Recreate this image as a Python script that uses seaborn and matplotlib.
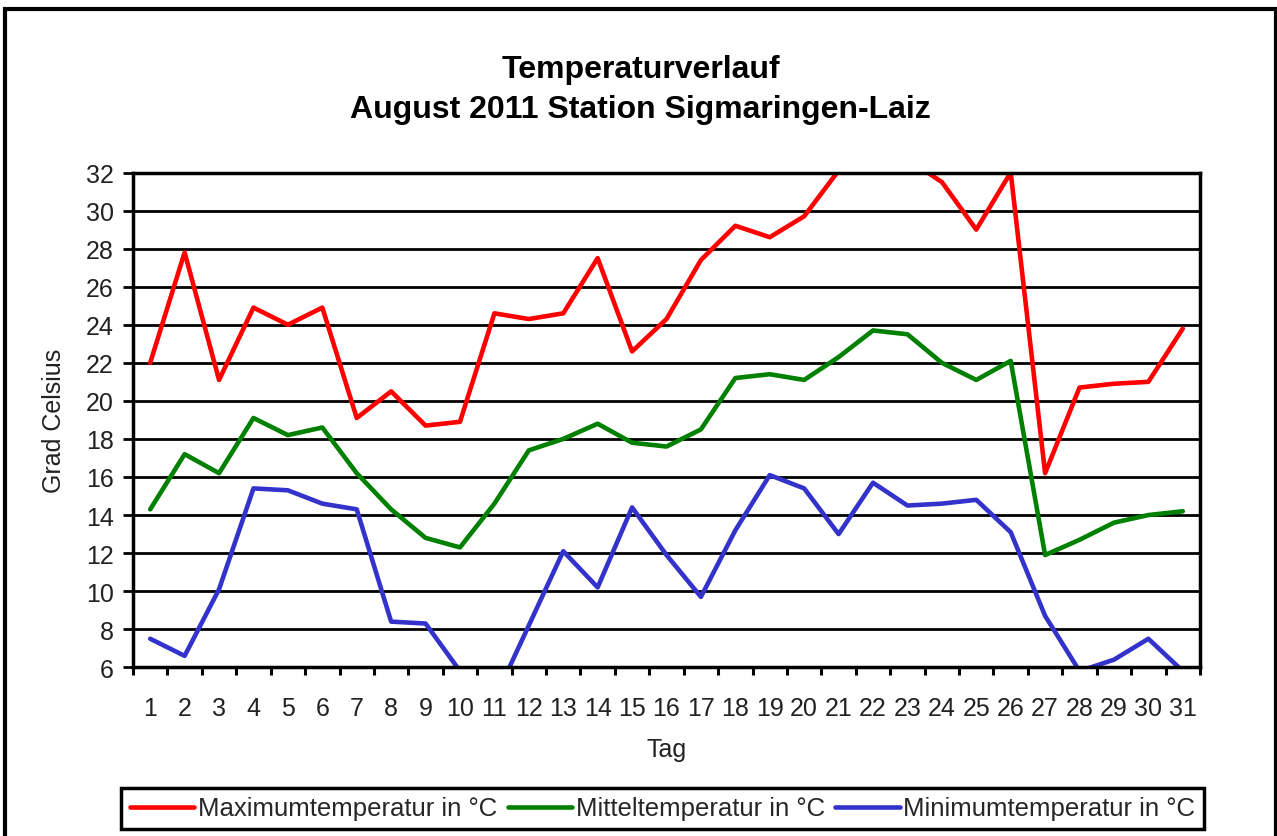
import numpy as np
import pandas as pd
import seaborn as sns
import matplotlib.pyplot as plt
from matplotlib.patches import Rectangle
from matplotlib.ticker import MultipleLocator, FixedLocator

days = list(range(1, 32))

t_max = [22.0, 27.8, 21.1, 24.9, 24.0, 24.9, 19.1, 20.5, 18.7, 18.9,
         24.6, 24.3, 24.6, 27.5, 22.6, 24.3, 27.4, 29.2, 28.6, 29.7,
         32.1, 33.8, 32.7, 31.5, 29.0, 32.0, 16.2, 20.7, 20.9, 21.0, 23.8]
t_mean = [14.3, 17.2, 16.2, 19.1, 18.2, 18.6, 16.2, 14.3, 12.8, 12.3,
          14.6, 17.4, 18.0, 18.8, 17.8, 17.6, 18.5, 21.2, 21.4, 21.1,
          22.3, 23.7, 23.5, 22.0, 21.1, 22.1, 11.9, 12.7, 13.6, 14.0, 14.2]
t_min = [7.5, 6.6, 10.1, 15.4, 15.3, 14.6, 14.3, 8.4, 8.3, 5.8,
         4.3, 8.2, 12.1, 10.2, 14.4, 11.9, 9.7, 13.2, 16.1, 15.4,
         13.0, 15.7, 14.5, 14.6, 14.8, 13.1, 8.7, 5.8, 6.4, 7.5, 5.8]

series_names = ['Maximumtemperatur in °C', 'Mitteltemperatur in °C', 'Minimumtemperatur in °C']
colors = ['#FF0000', '#008000', '#3333CC']

df = pd.DataFrame({'Tag': days, series_names[0]: t_max,
                   series_names[1]: t_mean, series_names[2]: t_min})
long = df.melt(id_vars='Tag', var_name='Reihe', value_name='Temp')

sns.set_theme(style='white')
plt.rcParams['font.family'] = ['Liberation Sans', 'DejaVu Sans']

fig = plt.figure(figsize=(12.77, 8.37), dpi=100)
ax = fig.add_axes([133 / 1277, 1 - 668.3 / 837, 1067 / 1277, 494.8 / 837])

sns.lineplot(data=long, x='Tag', y='Temp', hue='Reihe', palette=colors,
             linewidth=3.3, ax=ax, legend=True)

ax.set_xlim(0.5, 31.5)
ax.set_ylim(6, 32)
ax.yaxis.set_major_locator(MultipleLocator(2))
ax.yaxis.grid(True, color='black', linewidth=2)
ax.set_axisbelow(True)

ax.xaxis.set_major_locator(FixedLocator(days))
ax.set_xticklabels([str(d) for d in days])
ax.xaxis.set_minor_locator(FixedLocator(np.arange(0.5, 32, 1)))
ax.tick_params(axis='x', which='major', length=0, pad=21, labelsize=18)
ax.tick_params(axis='x', which='minor', length=6, width=2.2, direction='out',
               color='black', bottom=True)
ax.tick_params(axis='y', which='major', length=7, width=2, direction='out',
               left=True, pad=7, labelsize=18)
ax.tick_params(axis='both', colors='black', labelcolor='#222222')

for s in ax.spines.values():
    s.set_color('black')
    s.set_linewidth(2.5)

ax.set_xlabel('Tag', fontsize=18, color='#222222')
ax.xaxis.set_label_coords(0.5, -0.14)
ax.set_ylabel('Grad Celsius', fontsize=18, color='#222222')
ax.yaxis.set_label_coords(-0.063, 0.5)

fig.text(0.5016, 1 - 90 / 837, 'Temperaturverlauf\nAugust 2011 Station Sigmaringen-Laiz',
         ha='center', va='center', fontsize=23, fontweight='bold',
         linespacing=1.42, color='black')

handles, labels = ax.get_legend_handles_labels()
ax.get_legend().remove()
leg = fig.legend(handles, labels, loc='center', bbox_to_anchor=(0.519, 1 - 809.5 / 837),
                 ncol=3, fontsize=18.5, frameon=True, fancybox=False,
                 handlelength=2.5, handletextpad=0.15, columnspacing=0.4,
                 borderpad=0.35)
leg.get_frame().set_edgecolor('black')
leg.get_frame().set_linewidth(2.5)
leg.get_frame().set_alpha(1)
for line in leg.get_lines():
    line.set_linewidth(3.3)

fig.patches.append(Rectangle((5 / 1277, -0.05), 1271 / 1277, 1.05 - 10 / 837,
                             transform=fig.transFigure, fill=False,
                             edgecolor='black', linewidth=3, clip_on=False))

fig.savefig('out.png', dpi=100, facecolor='white')
